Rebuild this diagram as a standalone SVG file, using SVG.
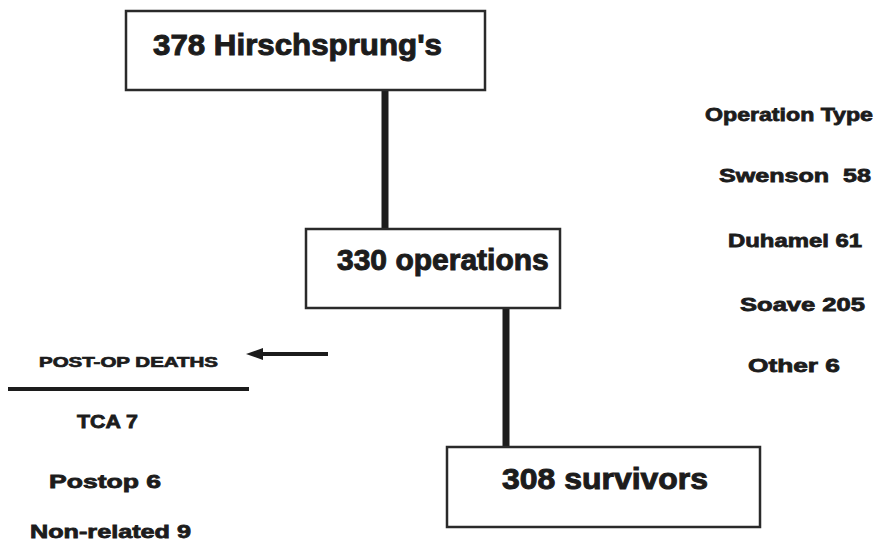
<svg xmlns="http://www.w3.org/2000/svg" width="888" height="551" viewBox="0 0 888 551">
<defs>
<style>
.box{fill:#fff;stroke:#2a2a2a;stroke-width:2.5}
.t{font-family:"Liberation Sans",Arial,sans-serif;font-weight:bold;fill:#1c1c1c;stroke:#1c1c1c;stroke-width:1}
.big{font-size:30px}
.mid{font-size:19px;stroke-width:0.8}
.sm{font-size:14px;stroke-width:0.7}
.conn{stroke:#1c1c1c;fill:none}
</style>
</defs>
<rect width="888" height="551" fill="#fff"/>
<g id="connectors">
<line class="conn" x1="385" y1="90" x2="385" y2="229" stroke-width="7"/>
<line class="conn" x1="506" y1="308" x2="506" y2="447" stroke-width="7"/>
<line class="conn" x1="328" y1="354" x2="260" y2="354" stroke-width="4"/>
<polygon points="246,354 263,348 263,360" fill="#1c1c1c"/>
<line class="conn" x1="8" y1="389" x2="249" y2="389" stroke-width="4"/>
</g>
<g id="node-hirschsprung">
<rect class="box" x="126" y="11" width="359" height="79"/>
<text class="t big" x="153" y="55" textLength="289" lengthAdjust="spacingAndGlyphs">378 Hirschsprung's</text>
</g>
<g id="node-operations">
<rect class="box" x="306" y="229" width="254" height="79"/>
<text class="t big" x="337" y="270">330 operations</text>
</g>
<g id="node-survivors">
<rect class="box" x="447" y="447" width="313" height="80"/>
<text class="t big" x="502" y="489" textLength="206" lengthAdjust="spacingAndGlyphs">308 survivors</text>
</g>
<g id="operation-types">
<text class="t mid" x="705" y="121" textLength="168" lengthAdjust="spacingAndGlyphs">Operation Type</text>
<text class="t mid" x="719" y="182" textLength="152" lengthAdjust="spacingAndGlyphs" xml:space="preserve">Swenson  58</text>
<text class="t mid" x="728" y="247" textLength="134" lengthAdjust="spacingAndGlyphs">Duhamel 61</text>
<text class="t mid" x="740" y="311" textLength="125" lengthAdjust="spacingAndGlyphs">Soave 205</text>
<text class="t mid" x="748" y="372" textLength="92" lengthAdjust="spacingAndGlyphs">Other 6</text>
</g>
<g id="post-op-deaths">
<text class="t sm" x="39" y="367" textLength="179" lengthAdjust="spacingAndGlyphs">POST-OP DEATHS</text>
<text class="t mid" x="77" y="428" textLength="61" lengthAdjust="spacingAndGlyphs">TCA 7</text>
<text class="t mid" x="49" y="488" textLength="112" lengthAdjust="spacingAndGlyphs">Postop 6</text>
<text class="t mid" x="30" y="538" textLength="161" lengthAdjust="spacingAndGlyphs">Non-related 9</text>
</g>
</svg>
